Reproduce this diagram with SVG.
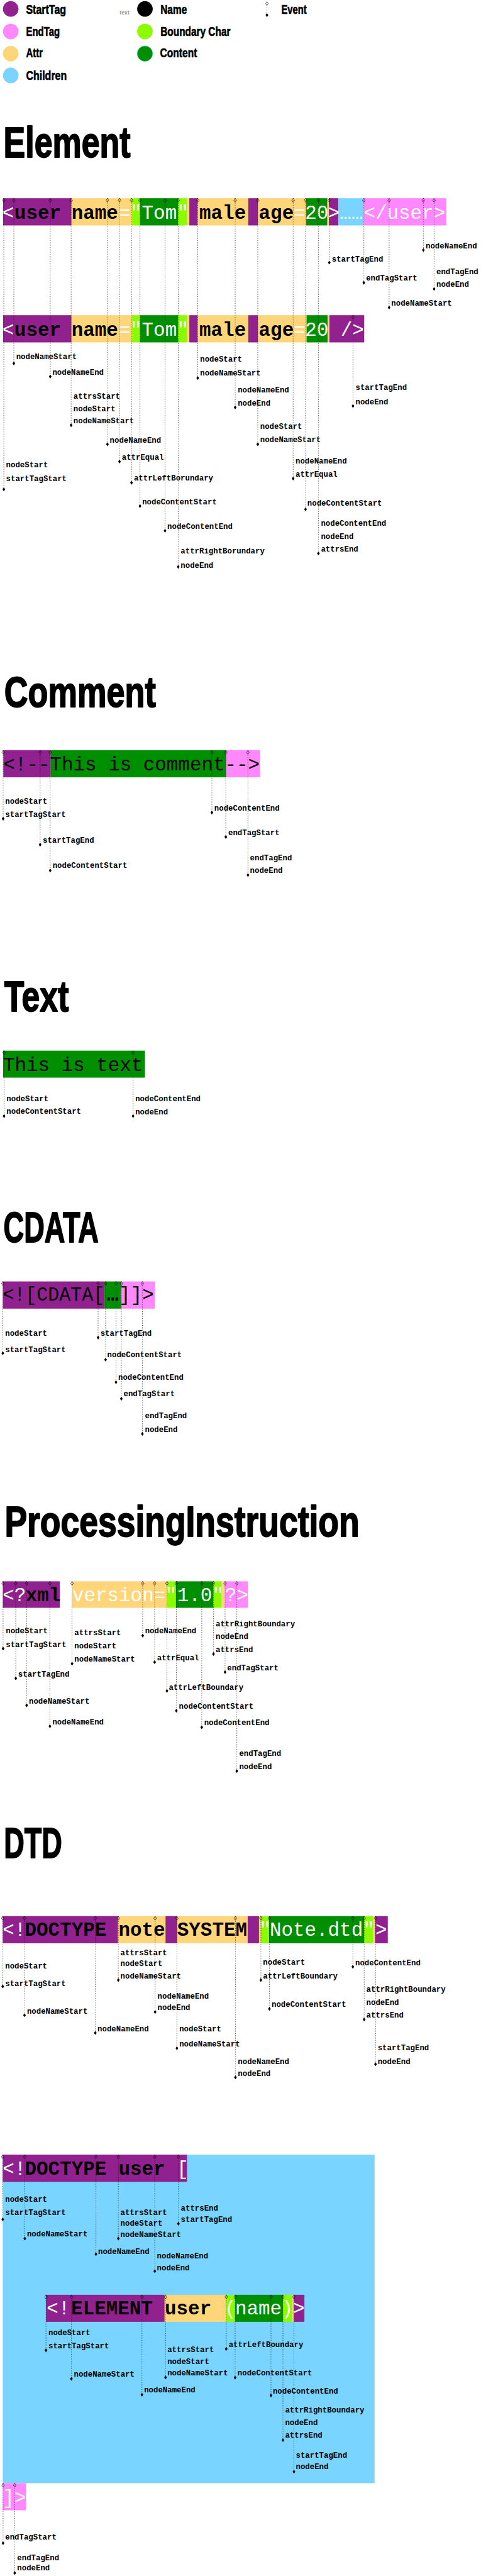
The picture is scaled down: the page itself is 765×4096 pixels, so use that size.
<svg xmlns="http://www.w3.org/2000/svg" width="765" height="4096" viewBox="0 0 765 4096">
<style>
.hd{font-family:"Liberation Sans",Arial,sans-serif;font-weight:bold;font-size:110px;stroke:#000;stroke-width:3;stroke-linejoin:round}
.lg{font-family:"Liberation Sans",Arial,sans-serif;font-weight:bold;font-size:32px;stroke:#000;stroke-width:1}
.m{font-family:"Liberation Mono","Courier New",monospace;font-size:50px}
.w{fill:#fff}
.bd{font-weight:bold}
.ev text{font-family:"Liberation Mono","Courier New",monospace;font-size:20px;font-weight:bold}
.cn{stroke:#000;stroke-width:1.2;stroke-dasharray:1.5 3;fill:none}
.st{fill:#922190}.et{fill:#ff88ff}.at{fill:#ffd57a}.ch{fill:#79d5ff}.bc{fill:#8cfb00}.ct{fill:#008f00}
</style>
<defs>
<path id="dh" d="M0-5L3.5 0 0 5-3.5 0Z" fill="none" stroke="#000" stroke-width="1"/>
<path id="df" d="M0-5L3.5 0 0 5-3.5 0Z" fill="#000"/>
</defs>
<rect width="765" height="4096" fill="#fff"/>
<g transform="scale(0.618)">

<g id="legend">
<g id="lg-starttag"><circle class="st" cx="27.6" cy="23" r="20"/><text class="lg" x="67" y="35" textLength="103" lengthAdjust="spacingAndGlyphs">StartTag</text></g>
<g id="lg-endtag"><circle class="et" cx="27.6" cy="81" r="20"/><text class="lg" x="67" y="92" textLength="87" lengthAdjust="spacingAndGlyphs">EndTag</text></g>
<g id="lg-attr"><circle class="at" cx="27.6" cy="138" r="20"/><text class="lg" x="67" y="148" textLength="43" lengthAdjust="spacingAndGlyphs">Attr</text></g>
<g id="lg-children"><circle class="ch" cx="27.6" cy="194" r="20"/><text class="lg" x="67" y="205" textLength="105" lengthAdjust="spacingAndGlyphs">Children</text></g>
<g id="lg-text"><text x="308" y="37" font-family="Liberation Sans, Arial, sans-serif" font-weight="bold" font-size="15" fill="#999" textLength="25" lengthAdjust="spacingAndGlyphs">text</text></g>
<g id="lg-name"><circle cx="373" cy="23" r="20" fill="#000"/><text class="lg" x="413" y="35" textLength="68" lengthAdjust="spacingAndGlyphs">Name</text></g>
<g id="lg-boundary"><circle class="bc" cx="373" cy="81" r="20"/><text class="lg" x="413" y="92" textLength="180" lengthAdjust="spacingAndGlyphs">Boundary Char</text></g>
<g id="lg-content"><circle class="ct" cx="373" cy="138" r="20" stroke="#79d5ff" stroke-width="1"/><text class="lg" x="412" y="148" textLength="95" lengthAdjust="spacingAndGlyphs">Content</text></g>
<g id="lg-event"><path class="cn" d="M687 9V39"/><use href="#dh" x="687" y="9"/><use href="#df" x="687" y="39"/><text class="lg" x="724" y="35" textLength="65" lengthAdjust="spacingAndGlyphs">Event</text></g>
</g>

<g id="titles">
<text id="t-element" class="hd" x="9" y="405" textLength="327" lengthAdjust="spacingAndGlyphs">Element</text>
<text id="t-comment" class="hd" x="11" y="1818" textLength="390" lengthAdjust="spacingAndGlyphs">Comment</text>
<text id="t-text" class="hd" x="11" y="2602" textLength="166" lengthAdjust="spacingAndGlyphs">Text</text>
<text id="t-cdata" class="hd" x="9" y="3196" textLength="245" lengthAdjust="spacingAndGlyphs">CDATA</text>
<text id="t-pi" class="hd" x="12" y="3953" textLength="913" lengthAdjust="spacingAndGlyphs">ProcessingInstruction</text>
<text id="t-dtd" class="hd" x="10" y="4780" textLength="150" lengthAdjust="spacingAndGlyphs">DTD</text>
</g>

<g id="el-row1">
<rect class="st" x="8" y="510" width="176" height="70"/>
<rect class="at" x="184" y="510" width="155" height="70"/>
<rect class="bc" x="339" y="510" width="21.6" height="70"/>
<rect class="ct" x="360.6" y="510" width="98.1" height="70"/>
<rect class="bc" x="458.7" y="510" width="22.9" height="70"/>
<rect class="at" x="481.6" y="510" width="5.6" height="70"/>
<rect class="st" x="487.2" y="510" width="21.7" height="70"/>
<rect class="at" x="508.9" y="510" width="130.1" height="70"/>
<rect class="st" x="639" y="510" width="25.2" height="70"/>
<rect class="at" x="664.2" y="510" width="123.9" height="70"/>
<rect class="ct" x="788.1" y="510" width="54.4" height="70"/>
<rect class="at" x="842.5" y="510" width="4.1" height="70"/>
<rect class="st" x="846.6" y="510" width="24.4" height="70"/>
<rect class="ch" x="871" y="510" width="65" height="70"/>
<rect class="et" x="936" y="510" width="212.8" height="70"/>
<text class="m w" x="21" y="563" text-anchor="middle">&lt;</text>
<text class="m bd" x="37" y="563">user</text>
<text class="m bd" x="184" y="563">name</text>
<text class="m w" x="321" y="563" text-anchor="middle">=</text>
<text class="m w" x="350" y="563" text-anchor="middle">"</text>
<text class="m w" x="365" y="563">Tom</text>
<text class="m w" x="470.5" y="563" text-anchor="middle">"</text>
<text class="m bd" x="513" y="563">male</text>
<text class="m bd" x="666" y="563">age</text>
<text class="m w" x="770.6" y="563" text-anchor="middle">=</text>
<text class="m w" x="785" y="563">20</text>
<text class="m w" x="858.8" y="563" text-anchor="middle">&gt;</text>
<text class="m w" x="874" y="563">……</text>
<text class="m w" x="936" y="563">&lt;/user&gt;</text>
</g>

<g id="el-row2">
<rect class="st" x="8" y="811" width="176" height="70"/>
<rect class="at" x="184" y="811" width="155" height="70"/>
<rect class="bc" x="339" y="811" width="21.6" height="70"/>
<rect class="ct" x="360.6" y="811" width="98.1" height="70"/>
<rect class="bc" x="458.7" y="811" width="22.9" height="70"/>
<rect class="at" x="481.6" y="811" width="5.6" height="70"/>
<rect class="st" x="487.2" y="811" width="21.7" height="70"/>
<rect class="at" x="508.9" y="811" width="130.1" height="70"/>
<rect class="st" x="639" y="811" width="25.2" height="70"/>
<rect class="at" x="664.2" y="811" width="124.8" height="70"/>
<rect class="ct" x="789" y="811" width="54" height="70"/>
<rect class="at" x="843" y="811" width="4.8" height="70"/>
<rect class="st" x="847.8" y="811" width="89.4" height="70"/>
<text class="m w" x="21" y="864" text-anchor="middle">&lt;</text>
<text class="m bd" x="37" y="864">user</text>
<text class="m bd" x="184" y="864">name</text>
<text class="m w" x="321" y="864" text-anchor="middle">=</text>
<text class="m w" x="350" y="864" text-anchor="middle">"</text>
<text class="m w" x="365" y="864">Tom</text>
<text class="m w" x="470.5" y="864" text-anchor="middle">"</text>
<text class="m bd" x="513" y="864">male</text>
<text class="m bd" x="666" y="864">age</text>
<text class="m w" x="770.6" y="864" text-anchor="middle">=</text>
<text class="m w" x="785" y="864">20</text>
<text class="m w" x="876.5" y="864">/&gt;</text>
</g>

<g id="comment-row">
<rect class="st" x="8.6" y="1930" width="122" height="70"/>
<rect class="ct" x="130.6" y="1930" width="451.5" height="70"/>
<rect class="et" x="582.1" y="1930" width="87.5" height="70"/>
<text class="m" x="8.6" y="1983">&lt;!--This is comment--&gt;</text>
</g>

<g id="text-row">
<rect class="ct" x="8.1" y="2703.3" width="364.9" height="69.4"/>
<text class="m" x="8" y="2755">This is text</text>
</g>

<g id="cdata-row">
<rect class="st" x="7.2" y="3297" width="261.6" height="70"/>
<rect class="ct" x="268.8" y="3297" width="43.1" height="70"/>
<rect class="et" x="311.9" y="3297" width="87" height="70"/>
<text class="m" x="7" y="3346" textLength="262" lengthAdjust="spacingAndGlyphs">&lt;![CDATA[</text>
<text class="m bd" x="275" y="3346">…</text>
<text class="m" x="306" y="3346">]]&gt;</text>
</g>

<g id="pi-row">
<rect class="st" x="7.3" y="4068.6" width="146.6" height="68.2"/>
<rect class="at" x="185.4" y="4068.6" width="244.8" height="68.2"/>
<rect class="bc" x="430.2" y="4068.6" width="22.4" height="68.2"/>
<rect class="ct" x="452.6" y="4068.6" width="96.9" height="68.2"/>
<rect class="bc" x="549.5" y="4068.6" width="21.2" height="68.2"/>
<rect class="at" x="570.7" y="4068.6" width="8.5" height="68.2"/>
<rect class="et" x="579.2" y="4068.6" width="58.8" height="68.2"/>
<text class="m w" x="7" y="4119">&lt;?</text>
<text class="m bd" x="66" y="4119">xml</text>
<text class="m w" x="186" y="4119">version=</text>
<text class="m w" x="440" y="4119" text-anchor="middle">"</text>
<text class="m w" x="456" y="4119">1.0</text>
<text class="m w" x="561" y="4119" text-anchor="middle">"</text>
<text class="m w" x="579" y="4119">?&gt;</text>
</g>

<g id="dtd-row">
<rect class="st" x="7.1" y="4930" width="296.6" height="70"/>
<rect class="at" x="303.7" y="4930" width="122.3" height="70"/>
<rect class="st" x="426" y="4930" width="30" height="70"/>
<rect class="at" x="456" y="4930" width="181.4" height="70"/>
<rect class="st" x="637.4" y="4930" width="29.2" height="70"/>
<rect class="at" x="666.6" y="4930" width="4.8" height="70"/>
<rect class="bc" x="671.4" y="4930" width="21.2" height="70"/>
<rect class="ct" x="692.6" y="4930" width="244.6" height="70"/>
<rect class="bc" x="937.2" y="4930" width="23.7" height="70"/>
<rect class="at" x="960.9" y="4930" width="4.7" height="70"/>
<rect class="st" x="965.6" y="4930" width="32.4" height="70"/>
<text class="m w" x="7" y="4981">&lt;!</text>
<text class="m bd" x="64" y="4981">DOCTYPE</text>
<text class="m bd" x="305" y="4981">note</text>
<text class="m bd" x="456" y="4981">SYSTEM</text>
<text class="m w" x="682" y="4981" text-anchor="middle">"</text>
<text class="m w" x="694" y="4981">Note.dtd</text>
<text class="m w" x="949" y="4981" text-anchor="middle">"</text>
<text class="m w" x="981" y="4981" text-anchor="middle">&gt;</text>
</g>

<g id="dtd2-children">
<rect class="ch" x="7.1" y="5543.6" width="956.9" height="845.4"/>
</g>
<g id="dtd2-row">
<rect class="st" x="7.1" y="5543.6" width="474.1" height="70"/>
<text class="m w" x="7" y="5595">&lt;!</text>
<text class="m bd" x="64" y="5595">DOCTYPE</text>
<text class="m bd" x="305" y="5595">user</text>
<text class="m w" x="455" y="5595">[</text>
</g>
<g id="element-decl-row">
<rect class="st" x="118.3" y="5904.3" width="305.3" height="69.6"/>
<rect class="at" x="423.6" y="5904.3" width="158.6" height="69.6"/>
<rect class="bc" x="582.2" y="5904.3" width="22.9" height="69.6"/>
<rect class="ct" x="605.1" y="5904.3" width="123.1" height="69.6"/>
<rect class="bc" x="728.2" y="5904.3" width="23.6" height="69.6"/>
<rect class="at" x="751.8" y="5904.3" width="4" height="69.6"/>
<rect class="st" x="755.8" y="5904.3" width="27.6" height="69.6"/>
<text class="m w" x="120" y="5955">&lt;!</text>
<text class="m bd" x="183" y="5955">ELEMENT</text>
<text class="m bd" x="424" y="5955">user</text>
<text class="m w" x="593" y="5955" text-anchor="middle">(</text>
<text class="m w" x="605" y="5955">name</text>
<text class="m w" x="739" y="5955" text-anchor="middle">)</text>
<text class="m w" x="769" y="5955" text-anchor="middle">&gt;</text>
</g>
<g id="dtd2-end-row">
<rect class="et" x="7.1" y="6389" width="60" height="69.7"/>
<text class="m w" x="7" y="6441">]&gt;</text>
</g>

<g id="connectors" class="cn">
<path d="M9.9 510V1259M35.6 510V935M129.3 510V969M183.1 510V1094M276.4 510V1143M307.6 510V1187.5M338.5 510V1242M360.2 510V1302M424.7 510V1365.6M458.7 510V1458.5M508.9 510V972.6M605.3 510V1048.2M663.4 510V1143M754.4 510V1231.3M786.3 510V1310.3M819.4 510V1424M847.4 510V675.6M936.4 510V727.5M1001.4 510V791.3M1089.5 510V643.4M1117.2 510V743.5M908.4 811V1044.6"/>
<path d="M8.1 1930V2106.5M103.3 1930V2173.3M129.1 1930V2239.7M545.3 1930V2090.7M581.1 1930V2153.5M638.1 1930V2251.6"/>
<path d="M10.5 2703.3V2871.7M342.5 2703.3V2871.7"/>
<path d="M7.2 3297V3481.7M252.5 3297V3441.5M271.7 3297V3498.4M298.5 3297V3556.3M312.3 3297V3598.8M366.4 3297V3689.2"/>
<path d="M7.9 4068.6V4241.7M40.6 4068.6V4318.3M68.5 4068.6V4387.6M128.4 4068.6V4441.4M185.4 4068.6V4280.5M367.2 4068.6V4208.4M398 4068.6V4276.6M429.6 4068.6V4350.4M453.8 4068.6V4401.5M519.2 4068.6V4444.2M549.5 4068.6V4255.6M579.2 4068.6V4302.2M609.5 4068.6V4556.8"/>
<path d="M7.1 4930V5111M63.1 4930V5184.9M245.3 4930V5230.4M304.5 4930V5094.4M399.2 4930V5176.7M455.2 4930V5270M605.9 4930V5345M671.4 4930V5094.4M693.4 4930V5168.5M908 4930V5060.4M937.2 4930V5195.9M966.4 4930V5311"/>
<path d="M7.1 5543.6V5710.4M63.9 5543.6V5759.6M246.9 5543.6V5799.6M304.5 5543.6V5759.6M398.4 5543.6V5843.6M459.1 5543.6V5721.4"/>
<path d="M118.3 5904.3V6047.1M183.8 5904.3V6120.4M365.3 5904.3V6161.4M426 5904.3V6116.8M582.2 5904.3V6043.6M605.1 5904.3V6117.5M697.4 5904.3V6163.2M728.2 5904.3V6278.3M756.5 5904.3V6359.3"/>
<path d="M7.9 6389V6543.3M37.9 6389V6620"/>
</g>

<g class="ev">
<g id="ev-el-01"><use href="#dh" x="9.9" y="515.5"/><use href="#df" x="9.9" y="1259"/><text x="15.5" y="1203">nodeStart</text><text x="15.5" y="1238">startTagStart</text></g>
<g id="ev-el-02"><use href="#dh" x="35.6" y="515.5"/><use href="#df" x="35.6" y="935"/><text x="41.5" y="924">nodeNameStart</text></g>
<g id="ev-el-03"><use href="#dh" x="129.3" y="515.5"/><use href="#df" x="129.3" y="969"/><text x="135" y="965">nodeNameEnd</text></g>
<g id="ev-el-04"><use href="#dh" x="183.1" y="515.5"/><use href="#df" x="183.1" y="1094"/><text x="189" y="1026">attrsStart</text><text x="189" y="1058">nodeStart</text><text x="189" y="1089">nodeNameStart</text></g>
<g id="ev-el-05"><use href="#dh" x="276.4" y="515.5"/><use href="#df" x="276.4" y="1143"/><text x="282.5" y="1139">nodeNameEnd</text></g>
<g id="ev-el-06"><use href="#dh" x="307.6" y="515.5"/><use href="#df" x="307.6" y="1187.5"/><text x="313.5" y="1183">attrEqual</text></g>
<g id="ev-el-07"><use href="#dh" x="338.5" y="515.5"/><use href="#df" x="338.5" y="1242"/><text x="344.5" y="1237">attrLeftBorundary</text></g>
<g id="ev-el-08"><use href="#dh" x="360.2" y="515.5"/><use href="#df" x="360.2" y="1302"/><text x="366" y="1297">nodeContentStart</text></g>
<g id="ev-el-09"><use href="#dh" x="424.7" y="515.5"/><use href="#df" x="424.7" y="1365.6"/><text x="430.5" y="1361">nodeContentEnd</text></g>
<g id="ev-el-10"><use href="#dh" x="458.7" y="515.5"/><use href="#df" x="458.7" y="1458.5"/><text x="465" y="1424">attrRightBorundary</text><text x="465" y="1461">nodeEnd</text></g>
<g id="ev-el-11"><use href="#dh" x="508.9" y="515.5"/><use href="#df" x="508.9" y="972.6"/><text x="515" y="931">nodeStart</text><text x="515" y="965.7">nodeNameStart</text></g>
<g id="ev-el-12"><use href="#dh" x="605.3" y="515.5"/><use href="#df" x="605.3" y="1048.2"/><text x="612" y="1010">nodeNameEnd</text><text x="612" y="1043.7">nodeEnd</text></g>
<g id="ev-el-13"><use href="#dh" x="663.4" y="515.5"/><use href="#df" x="663.4" y="1143"/><text x="669.5" y="1103.6">nodeStart</text><text x="669.5" y="1137.5">nodeNameStart</text></g>
<g id="ev-el-14"><use href="#dh" x="754.4" y="515.5"/><use href="#df" x="754.4" y="1231.3"/><text x="760.5" y="1193">nodeNameEnd</text><text x="760.5" y="1227">attrEqual</text></g>
<g id="ev-el-15"><use href="#dh" x="786.3" y="515.5"/><use href="#df" x="786.3" y="1310.3"/><text x="791" y="1301.3">nodeContentStart</text></g>
<g id="ev-el-16"><use href="#dh" x="819.4" y="515.5"/><use href="#df" x="819.4" y="1424"/><text x="826" y="1352">nodeContentEnd</text><text x="826" y="1386">nodeEnd</text><text x="826" y="1419.6">attrsEnd</text></g>
<g id="ev-el-17"><use href="#dh" x="847.4" y="515.5"/><use href="#df" x="847.4" y="675.6"/><text x="854" y="672.8">startTagEnd</text></g>
<g id="ev-el-18"><use href="#dh" x="936.4" y="515.5"/><use href="#df" x="936.4" y="727.5"/><text x="942" y="722.4">endTagStart</text></g>
<g id="ev-el-19"><use href="#dh" x="1001.4" y="515.5"/><use href="#df" x="1001.4" y="791.3"/><text x="1007" y="786.7">nodeNameStart</text></g>
<g id="ev-el-20"><use href="#dh" x="1089.5" y="515.5"/><use href="#df" x="1089.5" y="643.4"/><text x="1095.5" y="638.4">nodeNameEnd</text></g>
<g id="ev-el-21"><use href="#dh" x="1117.2" y="515.5"/><use href="#df" x="1117.2" y="743.5"/><text x="1123" y="705">endTagEnd</text><text x="1123" y="738.5">nodeEnd</text></g>
<g id="ev-el-22"><use href="#dh" x="908.4" y="816.5"/><use href="#df" x="908.4" y="1044.6"/><text x="915" y="1002.5">startTagEnd</text><text x="915" y="1040">nodeEnd</text></g>

<g id="ev-cm-1"><use href="#dh" x="8.1" y="1935.5"/><use href="#df" x="8.1" y="2106.5"/><text x="13.5" y="2067.7">nodeStart</text><text x="13.5" y="2101.3">startTagStart</text></g>
<g id="ev-cm-2"><use href="#dh" x="103.3" y="1935.5"/><use href="#df" x="103.3" y="2173.3"/><text x="110" y="2168.6">startTagEnd</text></g>
<g id="ev-cm-3"><use href="#dh" x="129.1" y="1935.5"/><use href="#df" x="129.1" y="2239.7"/><text x="135.4" y="2233.8">nodeContentStart</text></g>
<g id="ev-cm-4"><use href="#dh" x="545.3" y="1935.5"/><use href="#df" x="545.3" y="2090.7"/><text x="551.5" y="2085.5">nodeContentEnd</text></g>
<g id="ev-cm-5"><use href="#dh" x="581.1" y="1935.5"/><use href="#df" x="581.1" y="2153.5"/><text x="587.4" y="2148.8">endTagStart</text></g>
<g id="ev-cm-6"><use href="#dh" x="638.1" y="1935.5"/><use href="#df" x="638.1" y="2251.6"/><text x="643.3" y="2212.8">endTagEnd</text><text x="643.3" y="2245.7">nodeEnd</text></g>

<g id="ev-tx-1"><use href="#dh" x="10.5" y="2708.8"/><use href="#df" x="10.5" y="2871.7"/><text x="16.7" y="2832.7">nodeStart</text><text x="16.7" y="2866">nodeContentStart</text></g>
<g id="ev-tx-2"><use href="#dh" x="342.5" y="2708.8"/><use href="#df" x="342.5" y="2871.7"/><text x="348.2" y="2832.7">nodeContentEnd</text><text x="348.2" y="2866.7">nodeEnd</text></g>

<g id="ev-cd-1"><use href="#dh" x="7.2" y="3302.5"/><use href="#df" x="7.2" y="3481.7"/><text x="13.4" y="3437.7">nodeStart</text><text x="13.4" y="3478.3">startTagStart</text></g>
<g id="ev-cd-2"><use href="#dh" x="252.5" y="3302.5"/><use href="#df" x="252.5" y="3441.5"/><text x="258.3" y="3436.2">startTagEnd</text></g>
<g id="ev-cd-3"><use href="#dh" x="271.7" y="3302.5"/><use href="#df" x="271.7" y="3498.4"/><text x="276" y="3492.7">nodeContentStart</text></g>
<g id="ev-cd-4"><use href="#dh" x="298.5" y="3302.5"/><use href="#df" x="298.5" y="3556.3"/><text x="304.2" y="3550">nodeContentEnd</text></g>
<g id="ev-cd-5"><use href="#dh" x="312.3" y="3302.5"/><use href="#df" x="312.3" y="3598.8"/><text x="318" y="3593">endTagStart</text></g>
<g id="ev-cd-6"><use href="#dh" x="366.4" y="3302.5"/><use href="#df" x="366.4" y="3689.2"/><text x="373" y="3649">endTagEnd</text><text x="373" y="3685">nodeEnd</text></g>

<g id="ev-pi-01"><use href="#dh" x="7.9" y="4074.1"/><use href="#df" x="7.9" y="4241.7"/><text x="15" y="4202.9">nodeStart</text><text x="15" y="4237.8">startTagStart</text></g>
<g id="ev-pi-02"><use href="#dh" x="40.6" y="4074.1"/><use href="#df" x="40.6" y="4318.3"/><text x="46.7" y="4313.8">startTagEnd</text></g>
<g id="ev-pi-03"><use href="#dh" x="68.5" y="4074.1"/><use href="#df" x="68.5" y="4387.6"/><text x="74.5" y="4383.2">nodeNameStart</text></g>
<g id="ev-pi-04"><use href="#dh" x="128.4" y="4074.1"/><use href="#df" x="128.4" y="4441.4"/><text x="135" y="4437.6">nodeNameEnd</text></g>
<g id="ev-pi-05"><use href="#dh" x="185.4" y="4074.1"/><use href="#df" x="185.4" y="4280.5"/><text x="191.5" y="4207.3">attrsStart</text><text x="191.5" y="4241.7">nodeStart</text><text x="191.5" y="4275.5">nodeNameStart</text></g>
<g id="ev-pi-06"><use href="#dh" x="367.2" y="4074.1"/><use href="#df" x="367.2" y="4208.4"/><text x="373.2" y="4201.7">nodeNameEnd</text></g>
<g id="ev-pi-07"><use href="#dh" x="398" y="4074.1"/><use href="#df" x="398" y="4276.6"/><text x="404.1" y="4271.1">attrEqual</text></g>
<g id="ev-pi-08"><use href="#dh" x="429.6" y="4074.1"/><use href="#df" x="429.6" y="4350.4"/><text x="434.4" y="4347.1">attrLeftBoundary</text></g>
<g id="ev-pi-09"><use href="#dh" x="453.8" y="4074.1"/><use href="#df" x="453.8" y="4401.5"/><text x="460.5" y="4396">nodeContentStart</text></g>
<g id="ev-pi-10"><use href="#dh" x="519.2" y="4074.1"/><use href="#df" x="519.2" y="4444.2"/><text x="525.3" y="4438.7">nodeContentEnd</text></g>
<g id="ev-pi-11"><use href="#dh" x="549.5" y="4074.1"/><use href="#df" x="549.5" y="4255.6"/><text x="555" y="4184">attrRightBoundary</text><text x="555" y="4217.3">nodeEnd</text><text x="555" y="4250">attrsEnd</text></g>
<g id="ev-pi-12"><use href="#dh" x="579.2" y="4074.1"/><use href="#df" x="579.2" y="4302.2"/><text x="584.7" y="4297.7">endTagStart</text></g>
<g id="ev-pi-13"><use href="#dh" x="609.5" y="4074.1"/><use href="#df" x="609.5" y="4556.8"/><text x="615.6" y="4518">endTagEnd</text><text x="615.6" y="4551.3">nodeEnd</text></g>

<g id="ev-dt-01"><use href="#dh" x="7.1" y="4935.5"/><use href="#df" x="7.1" y="5111"/><text x="13.4" y="5065.4">nodeStart</text><text x="13.4" y="5110.3">startTagStart</text></g>
<g id="ev-dt-02"><use href="#dh" x="63.1" y="4935.5"/><use href="#df" x="63.1" y="5184.9"/><text x="69.4" y="5180.5">nodeNameStart</text></g>
<g id="ev-dt-03"><use href="#dh" x="245.3" y="4935.5"/><use href="#df" x="245.3" y="5230.4"/><text x="250.9" y="5226">nodeNameEnd</text></g>
<g id="ev-dt-04"><use href="#dh" x="304.5" y="4935.5"/><use href="#df" x="304.5" y="5094.4"/><text x="310" y="5030.3">attrsStart</text><text x="310" y="5058.8">nodeStart</text><text x="310" y="5090">nodeNameStart</text></g>
<g id="ev-dt-05"><use href="#dh" x="399.2" y="4935.5"/><use href="#df" x="399.2" y="5176.7"/><text x="405.5" y="5142.1">nodeNameEnd</text><text x="405.5" y="5172.3">nodeEnd</text></g>
<g id="ev-dt-06"><use href="#dh" x="455.2" y="4935.5"/><use href="#df" x="455.2" y="5270"/><text x="461.5" y="5226">nodeStart</text><text x="461.5" y="5266.1">nodeNameStart</text></g>
<g id="ev-dt-07"><use href="#dh" x="605.9" y="4935.5"/><use href="#df" x="605.9" y="5345"/><text x="612.2" y="5310.5">nodeNameEnd</text><text x="612.2" y="5340.7">nodeEnd</text></g>
<g id="ev-dt-08"><use href="#dh" x="671.4" y="4935.5"/><use href="#df" x="671.4" y="5094.4"/><text x="676.9" y="5054.4">nodeStart</text><text x="676.9" y="5090">attrLeftBoundary</text></g>
<g id="ev-dt-09"><use href="#dh" x="693.4" y="4935.5"/><use href="#df" x="693.4" y="5168.5"/><text x="699" y="5164">nodeContentStart</text></g>
<g id="ev-dt-10"><use href="#dh" x="908" y="4935.5"/><use href="#df" x="908" y="5060.4"/><text x="914.3" y="5056">nodeContentEnd</text></g>
<g id="ev-dt-11"><use href="#dh" x="937.2" y="4935.5"/><use href="#df" x="937.2" y="5195.9"/><text x="942.7" y="5125.1">attrRightBoundary</text><text x="942.7" y="5159.2">nodeEnd</text><text x="942.7" y="5191">attrsEnd</text></g>
<g id="ev-dt-12"><use href="#dh" x="966.4" y="4935.5"/><use href="#df" x="966.4" y="5311"/><text x="971.9" y="5274.9">startTagEnd</text><text x="971.9" y="5311">nodeEnd</text></g>

<g id="ev-d2-01"><use href="#dh" x="7.1" y="5549.1"/><use href="#df" x="7.1" y="5710.4"/><text x="13.4" y="5665.7">nodeStart</text><text x="13.4" y="5698.9">startTagStart</text></g>
<g id="ev-d2-02"><use href="#dh" x="63.9" y="5549.1"/><use href="#df" x="63.9" y="5759.6"/><text x="69.4" y="5754.3">nodeNameStart</text></g>
<g id="ev-d2-03"><use href="#dh" x="246.9" y="5549.1"/><use href="#df" x="246.9" y="5799.6"/><text x="252.4" y="5798.9">nodeNameEnd</text></g>
<g id="ev-d2-04"><use href="#dh" x="304.5" y="5549.1"/><use href="#df" x="304.5" y="5759.6"/><text x="310" y="5698.9">attrsStart</text><text x="310" y="5726.4">nodeStart</text><text x="310" y="5755">nodeNameStart</text></g>
<g id="ev-d2-05"><use href="#dh" x="398.4" y="5549.1"/><use href="#df" x="398.4" y="5843.6"/><text x="403.9" y="5811.4">nodeNameEnd</text><text x="403.9" y="5841.8">nodeEnd</text></g>
<g id="ev-d2-06"><use href="#dh" x="459.1" y="5549.1"/><use href="#df" x="459.1" y="5721.4"/><text x="465.4" y="5687.1">attrsEnd</text><text x="465.4" y="5716.8">startTagEnd</text></g>

<g id="ev-ed-1"><use href="#dh" x="118.3" y="5909.8"/><use href="#df" x="118.3" y="6047.1"/><text x="124.6" y="6007.9">nodeStart</text><text x="124.6" y="6041.8">startTagStart</text></g>
<g id="ev-ed-2"><use href="#dh" x="183.8" y="5909.8"/><use href="#df" x="183.8" y="6120.4"/><text x="190.1" y="6115">nodeNameStart</text></g>
<g id="ev-ed-3"><use href="#dh" x="365.3" y="5909.8"/><use href="#df" x="365.3" y="6161.4"/><text x="370.8" y="6156">nodeNameEnd</text></g>
<g id="ev-ed-4"><use href="#dh" x="426" y="5909.8"/><use href="#df" x="426" y="6116.8"/><text x="430.7" y="6052.5">attrsStart</text><text x="430.7" y="6082.9">nodeStart</text><text x="430.7" y="6111.4">nodeNameStart</text></g>
<g id="ev-ed-5"><use href="#dh" x="582.2" y="5909.8"/><use href="#df" x="582.2" y="6043.6"/><text x="588.5" y="6039.3">attrLeftBoundary</text></g>
<g id="ev-ed-6"><use href="#dh" x="605.1" y="5909.8"/><use href="#df" x="605.1" y="6117.5"/><text x="611.4" y="6111.4">nodeContentStart</text></g>
<g id="ev-ed-7"><use href="#dh" x="697.4" y="5909.8"/><use href="#df" x="697.4" y="6163.2"/><text x="702.1" y="6158.6">nodeContentEnd</text></g>
<g id="ev-ed-8"><use href="#dh" x="728.2" y="5909.8"/><use href="#df" x="728.2" y="6278.3"/><text x="733.7" y="6206.7">attrRightBoundary</text><text x="733.7" y="6240">nodeEnd</text><text x="733.7" y="6272.3">attrsEnd</text></g>
<g id="ev-ed-9"><use href="#dh" x="756.5" y="5909.8"/><use href="#df" x="756.5" y="6359.3"/><text x="761.3" y="6323.3">startTagEnd</text><text x="761.3" y="6353.3">nodeEnd</text></g>

<g id="ev-de-1"><use href="#dh" x="7.9" y="6394.5"/><use href="#df" x="7.9" y="6543.3"/><text x="13.4" y="6534">endTagStart</text></g>
<g id="ev-de-2"><use href="#dh" x="37.9" y="6394.5"/><use href="#df" x="37.9" y="6620"/><text x="44.2" y="6587.3">endTagEnd</text><text x="44.2" y="6614">nodeEnd</text></g>
</g>

</g>
</svg>
